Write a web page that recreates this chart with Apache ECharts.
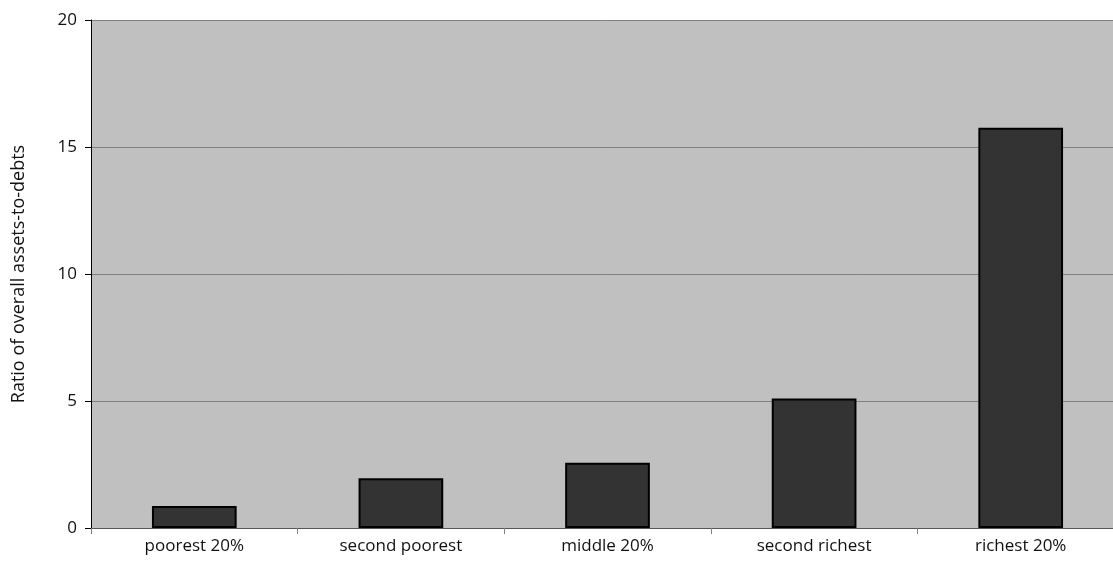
<!DOCTYPE html>
<html><head><meta charset="utf-8">
<script src="https://cdn.jsdelivr.net/npm/echarts@6/dist/echarts.min.js"></script>
<style>html,body{margin:0;padding:0;background:#fff}#c{width:1113px;height:567px}</style>
</head><body><div id="c"></div>
<script>
const categories = ['poorest 20%', 'second poorest', 'middle 20%', 'second richest', 'richest 20%'];
const values = [0.87, 1.96, 2.57, 5.1, 15.76];
const yAxisName = 'Ratio of overall assets-to-debts';
const FONT = 'Open Sans';
const chart = echarts.init(document.getElementById('c'), null, {renderer: 'canvas'});
chart.setOption({
  animation: false,
  textStyle: {fontFamily: FONT},
  grid: {left: 91, width: 1033, top: 20, height: 508, show: true, backgroundColor: '#c0c0c0', borderWidth: 0,
         outerBoundsMode: 'none', containLabel: false},
  xAxis: {
    type: 'category', data: categories,
    axisLine: {show: true, lineStyle: {color: '#555', width: 1}},
    axisTick: {show: true, alignWithLabel: false, length: 6, lineStyle: {color: '#808080'}},
    axisLabel: {color: '#111', fontSize: 17, fontFamily: FONT, margin: 10}
  },
  yAxis: {
    type: 'value', min: 0, max: 20, interval: 5,
    name: yAxisName, nameLocation: 'middle', nameGap: 63, nameRotate: 90,
    nameTextStyle: {color: '#111', fontSize: 18, fontFamily: FONT},
    axisLine: {show: true, lineStyle: {color: '#000', width: 1}},
    axisTick: {show: true, length: 6, lineStyle: {color: '#000'}},
    axisLabel: {color: '#111', fontSize: 17, fontFamily: FONT, margin: 14},
    splitLine: {show: true, lineStyle: {color: '#808080', width: 1}}
  },
  series: [{
    type: 'bar', data: values, barWidth: '41%',
    itemStyle: {color: '#333333', borderColor: '#000', borderWidth: 2}
  }]
});
</script></body></html>
